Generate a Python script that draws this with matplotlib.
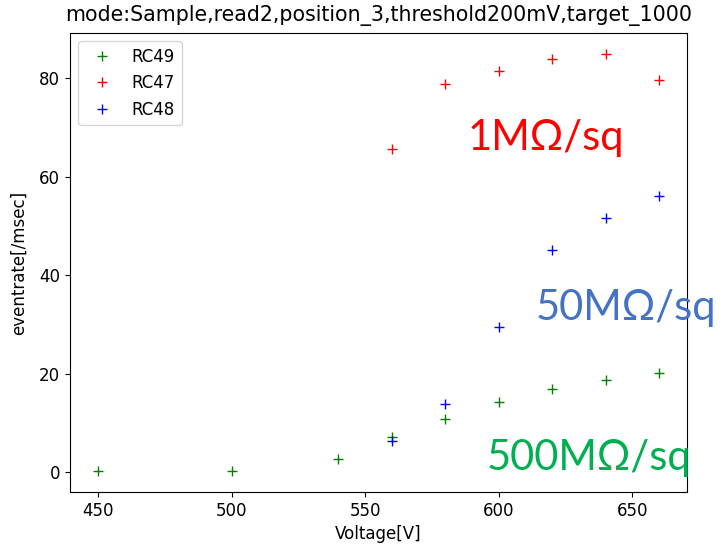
import matplotlib
matplotlib.use("Agg")
import matplotlib.pyplot as plt

v49 = [450, 500, 540, 560, 580, 600, 620, 640, 660]
r49 = [0.2, 0.2, 2.6, 7.1, 10.8, 14.2, 16.9, 18.7, 20.1]
v47 = [560, 580, 600, 620, 640, 660]
r47 = [65.6, 78.9, 81.5, 83.9, 85.0, 79.7]
v48 = [560, 580, 600, 620, 640, 660]
r48 = [6.3, 13.8, 29.5, 45.1, 51.6, 56.1]

title = "mode:Sample,read2,position_3,threshold200mV,target_1000"

plt.rcParams['font.size'] = 12
fig = plt.figure(figsize=(7.2, 5.47), dpi=100)
ax = fig.add_axes([70/720, 55/547, 617/720, 459/547])
ax.plot(v49, r49, '+', color='green', label='RC49', markersize=7)
ax.plot(v47, r47, '+', color='red', label='RC47', markersize=7)
ax.plot(v48, r48, '+', color='blue', label='RC48', markersize=7)
ax.set_xlabel("Voltage[V]")
ax.set_ylabel("eventrate[/msec]", labelpad=8)
ax.set_title(title, fontsize=14.8, pad=9)
ax.legend(loc='upper left')

fnt = 'Lato'
fig.text(468/720, 1 - 150/547, "1MΩ/sq", color='red', fontsize=30, family=fnt, va='baseline', ha='left')
fig.text(536/720, 1 - 320/547, "50MΩ/sq", color='#4472C4', fontsize=30, family=fnt, va='baseline', ha='left')
fig.text(487/720, 1 - 470/547, "500MΩ/sq", color='#00B050', fontsize=30, family=fnt, va='baseline', ha='left')

fig.savefig("out.png", dpi=100)
